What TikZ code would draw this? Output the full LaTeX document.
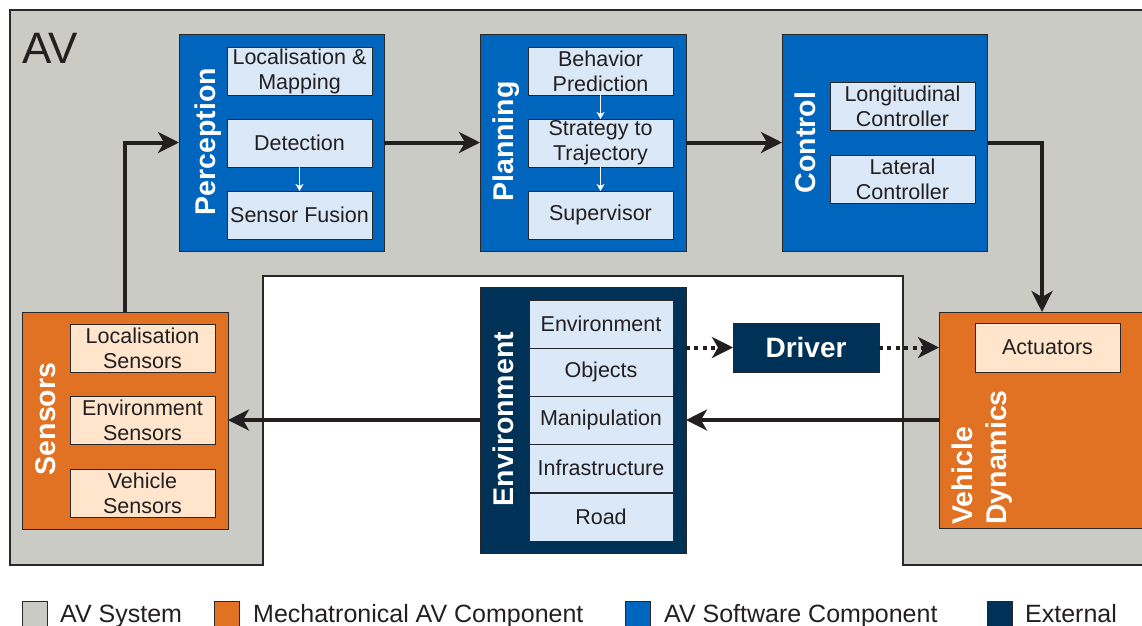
\documentclass[tikz,border=0pt]{standalone}
\usepackage{fontspec}
\setmainfont{Liberation Sans}
\usetikzlibrary{arrows.meta}

\definecolor{avgray}{RGB}{203,203,197}
\definecolor{swblue}{RGB}{0,101,189}
\definecolor{swlight}{RGB}{218,232,248}
\definecolor{mechorange}{RGB}{225,113,35}
\definecolor{mechlight}{RGB}{255,229,204}
\definecolor{extnavy}{RGB}{0,50,88}
\definecolor{ink}{RGB}{35,31,32}
\definecolor{edge}{RGB}{40,40,40}

\begin{document}
\begin{tikzpicture}[x=1pt,y=-1pt,
  blk/.style={draw=edge, line width=1pt, inner sep=0pt, outer sep=0pt, anchor=north west},
  swblk/.style={blk, fill=swblue},
  mechblk/.style={blk, fill=mechorange},
  extblk/.style={blk, fill=extnavy},
  swsub/.style={blk, fill=swlight, minimum width=145pt, minimum height=48pt,
    align=center, text=ink, font=\fontsize{21.5}{25}\selectfont},
  mechsub/.style={swsub, fill=mechlight},
  blklabel/.style={rotate=90, anchor=base, text=white, inner sep=0pt,
    font=\bfseries\fontsize{28.5}{32}\selectfont},
  conn/.style={line width=4pt, draw=ink, -{Stealth[length=21pt, width=21pt, inset=6pt]}},
  dotconn/.style={conn, dash pattern=on 4pt off 4.4pt},
  subarrow/.style={line width=1.3pt, draw=white, -{Stealth[length=7pt, width=8pt, inset=2pt]}},
  legsq/.style={draw=edge, line width=0.8pt, anchor=north west, minimum width=25pt, minimum height=25pt, inner sep=0pt},
  legtxt/.style={anchor=base west, text=ink, inner sep=0pt, font=\fontsize{25}{28}\selectfont}
]
\useasboundingbox (0,0) rectangle (1142,625);
\clip (0,0) rectangle (1142,625);

% AV system area with the open space for the external elements
\draw[draw=edge, line width=1.2pt, fill=avgray]
  (10,10) -- (1170,10) -- (1170,565) -- (903,565) -- (903,276)
  -- (263,276) -- (263,565) -- (10,565) -- cycle;
\node[anchor=base west, text=ink, inner sep=0pt, font=\fontsize{44}{44}\selectfont] (avlabel) at (22,63) {AV};

% Perception
\node[swblk, minimum width=205pt, minimum height=217pt] (perc) at (179,34) {};
\node[swsub] (loc) at (227,47) {Localisation \&\\Mapping};
\node[swsub] (det) at (227,119) {Detection};
\node[swsub] (fus) at (227,191) {Sensor Fusion};
\node[blklabel] (perclbl) at (215,141.5) {Perception};
\draw[subarrow] (det.south) -- (fus.north);

% Planning
\node[swblk, minimum width=206pt, minimum height=217pt] (plan) at (480,34) {};
\node[swsub] (beh) at (528,47) {Behavior\\Prediction};
\node[swsub] (strat) at (528,119) {Strategy to\\Trajectory};
\node[swsub] (sup) at (528,191) {Supervisor};
\node[blklabel] (planlbl) at (513.5,141.5) {Planning};
\draw[subarrow] (beh.south) -- (strat.north);
\draw[subarrow] (strat.south) -- (sup.north);

% Control
\node[swblk, minimum width=205pt, minimum height=217pt] (ctrl) at (782,34) {};
\node[swsub] (lon) at (830,82) {Longitudinal\\Controller};
\node[swsub] (lat) at (830,155) {Lateral\\Controller};
\node[blklabel] (ctrllbl) at (815.5,142.5) {Control};

% Sensors
\node[mechblk, minimum width=206pt, minimum height=217pt] (sens) at (22,312) {};
\node[mechsub] (locs) at (70,324) {Localisation\\Sensors};
\node[mechsub] (envs) at (70,396) {Environment\\Sensors};
\node[mechsub] (vehs) at (70,469) {Vehicle\\Sensors};
\node[blklabel] (senslbl) at (55.5,419) {Sensors};

% Environment
\node[extblk, minimum width=206pt, minimum height=266pt] (env) at (480,287) {};
\node[swsub, minimum width=144pt] (row1) at (529,300) {Environment};
\node[swsub, minimum width=144pt] (row2) at (529,348) {Objects};
\node[swsub, minimum width=144pt] (row3) at (529,396) {Manipulation};
\node[swsub, minimum width=144pt] (row4) at (529,444) {Infrastructure};
\node[swsub, minimum width=144pt] (row5) at (529,493) {Road};
\node[blklabel] (envlbl) at (513.5,419) {Environment};

% Driver
\node[extblk, minimum width=146pt, minimum height=49pt, text=white,
  font=\bfseries\fontsize{28}{32}\selectfont] (drv) at (733,323) {Driver};

% Vehicle dynamics
\node[mechblk, minimum width=206pt, minimum height=216pt] (vd) at (939,312) {};
\node[mechsub, minimum height=49pt] (act) at (975,323) {Actuators};
\node[rotate=90, anchor=base west, text=white, inner sep=0pt, align=left,
  font=\bfseries\fontsize{28.5}{33.5}\selectfont] (vdlbl) at (1006,525) {Vehicle\\Dynamics};

% Signal flow
\draw[conn] (sens.north) -- (sens.north |- perc.west) -- (perc.west);
\draw[conn] (perc.east) -- (plan.west);
\draw[conn] (plan.east) -- (ctrl.west);
\draw[conn] (ctrl.east) -| (vd.north);
\draw[conn] (vd.west |- env.east) -- (env.east);
\draw[conn] (env.west) -- (sens.east |- env.west);
\draw[dotconn] (env.east |- drv.west) -- (drv.west);
\draw[dotconn] (drv.east) -- (vd.west |- drv.east);

% Legend
\node[legsq, fill=avgray] (lg1) at (22,601) {};
\node[legtxt] (lt1) at (60,622) {AV System};
\node[legsq, fill=mechorange] (lg2) at (214,601) {};
\node[legtxt] (lt2) at (253,622) {Mechatronical AV Component};
\node[legsq, fill=swblue] (lg3) at (625,601) {};
\node[legtxt] (lt3) at (664,622) {AV Software Component};
\node[legsq, fill=extnavy] (lg4) at (987,601) {};
\node[legtxt] (lt4) at (1025,622) {External};
\end{tikzpicture}
\end{document}
